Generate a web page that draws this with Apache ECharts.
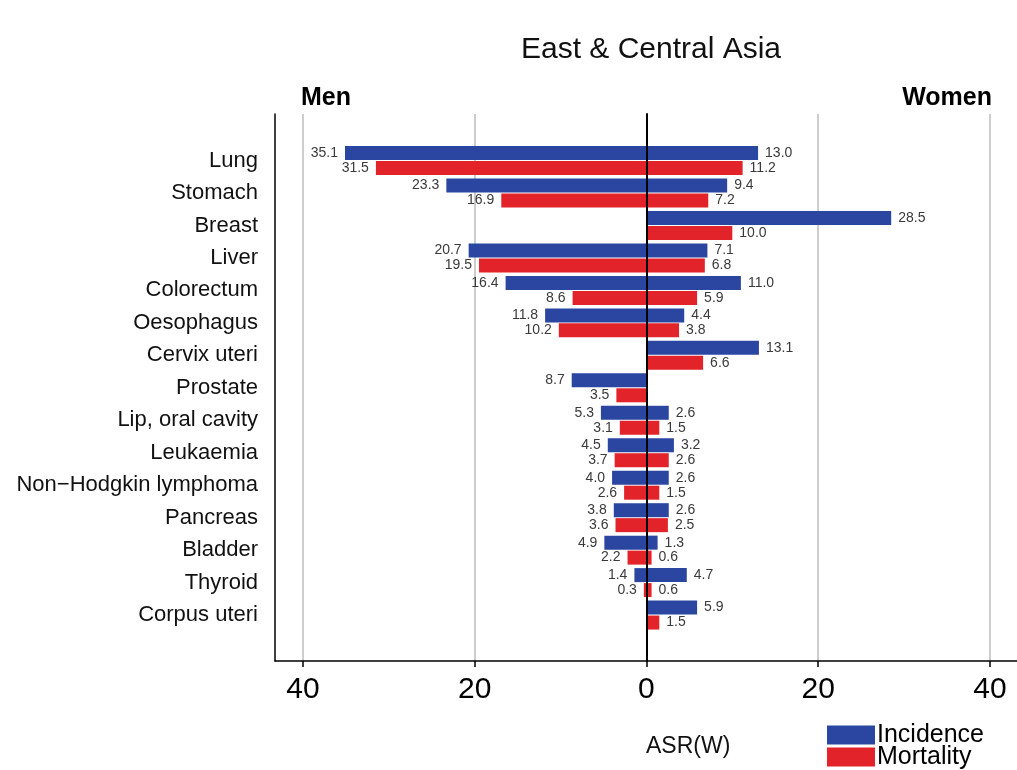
<!DOCTYPE html>
<html>
<head>
<meta charset="utf-8">
<script src="https://cdn.jsdelivr.net/npm/echarts@6/dist/echarts.min.js"></script>
<style>
  html, body { margin: 0; padding: 0; background: #fff; }
  #box1 { width: 1017px; height: 770px; }
</style>
</head>
<body>
<div id="box1"></div>
<script>
var chart = echarts.init(document.getElementById('box1'));

// cancer sites, top to bottom
var sites = ['Lung', 'Stomach', 'Breast', 'Liver', 'Colorectum', 'Oesophagus', 'Cervix uteri', 'Prostate',
  'Lip, oral cavity', 'Leukaemia', 'Non\u2212Hodgkin lymphoma', 'Pancreas', 'Bladder', 'Thyroid', 'Corpus uteri'];

// ASR(W) per 100 000, null = not applicable
var menIncidence = [35.1, 23.3, null, 20.7, 16.4, 11.8, null, 8.7, 5.3, 4.5, 4.0, 3.8, 4.9, 1.4, null];
var menMortality = [31.5, 16.9, null, 19.5, 8.6, 10.2, null, 3.5, 3.1, 3.7, 2.6, 3.6, 2.2, 0.3, null];
var womenIncidence = [13.0, 9.4, 28.5, 7.1, 11.0, 4.4, 13.1, null, 2.6, 3.2, 2.6, 2.6, 1.3, 4.7, 5.9];
var womenMortality = [11.2, 7.2, 10.0, 6.8, 5.9, 3.8, 6.6, null, 1.5, 2.6, 1.5, 2.5, 0.6, 0.6, 1.5];

var xTicks = [-40, -20, 0, 20, 40];

var blue = '#2a46a1';
var red = '#e2232a';
var xMin = -43.25, xMax = 43.15;

function neg(arr) {
  return arr.map(function (v) { return v == null ? '-' : -v; });
}
function pos(arr) {
  return arr.map(function (v) { return v == null ? '-' : v; });
}
function lbl(position) {
  return {
    show: true,
    position: position,
    distance: 7,
    fontFamily: 'Liberation Sans',
    fontSize: 14,
    color: '#3a3a3a',
    formatter: function (p) { return Math.abs(p.value).toFixed(1); }
  };
}

option = {
  backgroundColor: '#fff',
  animation: false,
  title: {
    text: 'East & Central Asia',
    left: 646,
    top: 30,
    textAlign: 'center',
    textStyle: { fontFamily: 'Liberation Sans', fontSize: 30, fontWeight: 'normal', color: '#111' }
  },
  legend: {
    orient: 'vertical',
    left: 827,
    top: 722.5,
    height: 80,
    itemWidth: 48,
    itemHeight: 19,
    itemGap: -3,
    padding: 0,
    icon: 'rect',
    data: ['Incidence', 'Mortality'],
    textStyle: { fontFamily: 'Liberation Sans', fontSize: 25, lineHeight: 19, color: '#000', padding: [0, 0, 0, -3] }
  },
  graphic: [
    { type: 'text', left: 301, top: 86, style: { text: 'Men', font: 'bold 25px "Liberation Sans"', fill: '#000' } },
    { type: 'text', right: 25, top: 86, style: { text: 'Women', font: 'bold 25px "Liberation Sans"', fill: '#000' } },
    { type: 'text', left: 646, top: 735, style: { text: 'ASR(W)', font: '23px "Liberation Sans"', fill: '#111', textAlign: 'center' } }
  ],
  grid: [
    // frame with axes and grid lines
    { left: 275, right: 0, top: 114, bottom: 109 },
    // bars
    { left: 275, right: 0, top: 144.3, height: 487 },
    // zero line on top
    { left: 275, right: 0, top: 114, bottom: 109 }
  ],
  xAxis: [
    {
      gridIndex: 0, type: 'value', min: xMin, max: xMax,
      axisLine: { show: true, onZero: false, lineStyle: { color: '#000', width: 1.5 } },
      axisTick: { show: true, length: 6, customValues: xTicks, lineStyle: { color: '#000', width: 1.5 } },
      axisLabel: {
        customValues: xTicks, margin: 14,
        fontFamily: 'Liberation Sans', fontSize: 30, color: '#000',
        formatter: function (v) { return Math.abs(v); }
      },
      splitLine: { show: true, lineStyle: { color: '#bdbdbd', width: 1.5 } }
    },
    {
      gridIndex: 1, type: 'value', min: xMin, max: xMax,
      axisLine: { show: false }, axisTick: { show: false }, axisLabel: { show: false }, splitLine: { show: false }
    },
    {
      gridIndex: 2, type: 'value', min: xMin, max: xMax,
      axisLine: { show: false }, axisTick: { show: false }, axisLabel: { show: false }, splitLine: { show: false }
    }
  ],
  yAxis: [
    {
      gridIndex: 0, type: 'value', min: 0, max: 1,
      axisLine: { show: true, onZero: false, lineStyle: { color: '#000', width: 1.5 } },
      axisTick: { show: false }, axisLabel: { show: false }, splitLine: { show: false }
    },
    {
      gridIndex: 1, type: 'category', data: sites, inverse: true,
      axisLine: { show: false }, axisTick: { show: false }, splitLine: { show: false },
      axisLabel: { margin: 17, fontFamily: 'Liberation Sans', fontSize: 22, color: '#111' }
    },
    {
      gridIndex: 2, type: 'value', min: 0, max: 1, z: 5,
      axisLine: { show: true, onZero: true, lineStyle: { color: '#000', width: 2 } },
      axisTick: { show: false }, axisLabel: { show: false }, splitLine: { show: false }
    }
  ],
  series: [
    {
      name: 'Incidence', type: 'bar', xAxisIndex: 1, yAxisIndex: 1, stack: 'inc',
      barWidth: 14, barGap: '7%', itemStyle: { color: blue },
      label: lbl('left'), data: neg(menIncidence)
    },
    {
      name: 'Mortality', type: 'bar', xAxisIndex: 1, yAxisIndex: 1, stack: 'mort',
      barWidth: 14, barGap: '7%', itemStyle: { color: red },
      label: lbl('left'), data: neg(menMortality)
    },
    {
      name: 'Incidence', type: 'bar', xAxisIndex: 1, yAxisIndex: 1, stack: 'inc',
      barWidth: 14, barGap: '7%', itemStyle: { color: blue },
      label: lbl('right'), data: pos(womenIncidence)
    },
    {
      name: 'Mortality', type: 'bar', xAxisIndex: 1, yAxisIndex: 1, stack: 'mort',
      barWidth: 14, barGap: '7%', itemStyle: { color: red },
      label: lbl('right'), data: pos(womenMortality)
    }
  ]
};

chart.setOption(option);
</script>
</body>
</html>
